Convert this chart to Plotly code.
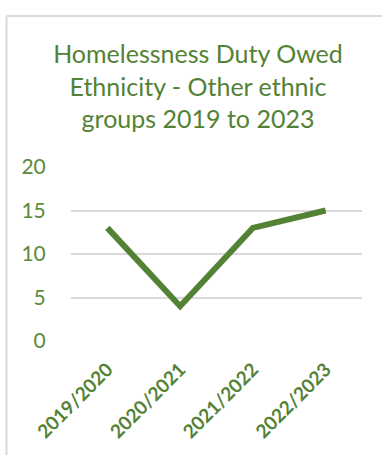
import plotly.graph_objects as go

# Homelessness duty owed, other ethnic groups, by financial year
years = ["2019/2020", "2020/2021", "2021/2022", "2022/2023"]
cases = [13, 4, 13, 15]
y_ticks = [0, 5, 10, 15, 20]

GREEN = "#548235"
TEXT_GREEN = "#5a8a3c"
GRID = "#d9d9d9"

W, H = 382, 455
L, R, T, B = 71, 20, 167, 114
pw, ph = W - L - R, H - T - B


def px_x(p):
    return (p - L) / pw


def px_y(p):
    return (H - B - p) / ph


fig = go.Figure(
    go.Scatter(
        x=years,
        y=cases,
        mode="lines",
        line=dict(color=GREEN, width=6),
        hoverinfo="x+y",
    )
)

# chart frame (left and top edges)
frame = dict(color=GRID, width=2)
fig.add_shape(type="line", xref="paper", yref="paper",
              x0=px_x(6.5), x1=px_x(6.5), y0=px_y(16), y1=px_y(470), line=frame)
fig.add_shape(type="line", xref="paper", yref="paper",
              x0=px_x(6.5), x1=px_x(400), y0=px_y(16), y1=px_y(16), line=frame)

fig.update_layout(
    width=W,
    height=H,
    margin=dict(l=L, r=R, t=T, b=B, autoexpand=False),
    paper_bgcolor="white",
    plot_bgcolor="white",
    showlegend=False,
    font=dict(family="Lato, Calibri, sans-serif", color=TEXT_GREEN),
    title=dict(
        text="Homelessness Duty Owed<br>Ethnicity - Other ethnic<br>groups 2019 to 2023",
        font=dict(family="Lato, Calibri, sans-serif", size=25, color=GREEN),
        xref="container",
        yref="container",
        x=198 / W,
        xanchor="center",
        y=1 - 63 / H,
        yanchor="top",
    ),
    xaxis=dict(
        type="category",
        range=[-0.5, len(years) - 0.5],
        automargin=False,
        showgrid=False,
        showline=False,
        zeroline=False,
        ticks="outside",
        ticklen=9,
        tickcolor="rgba(0,0,0,0)",
        tickangle=-45,
        tickfont=dict(family="Lato, Calibri, sans-serif", size=19, color=GREEN, weight="bold"),
    ),
    yaxis=dict(
        range=[0, 20],
        automargin=False,
        tickvals=y_ticks,
        showgrid=True,
        gridcolor=GRID,
        gridwidth=1.5,
        zeroline=False,
        showline=False,
        ticks="outside",
        ticklen=20,
        tickcolor="rgba(0,0,0,0)",
        tickfont=dict(family="Lato, Calibri, sans-serif", size=21, color=TEXT_GREEN),
    ),
)

fig.write_html("out.html")
